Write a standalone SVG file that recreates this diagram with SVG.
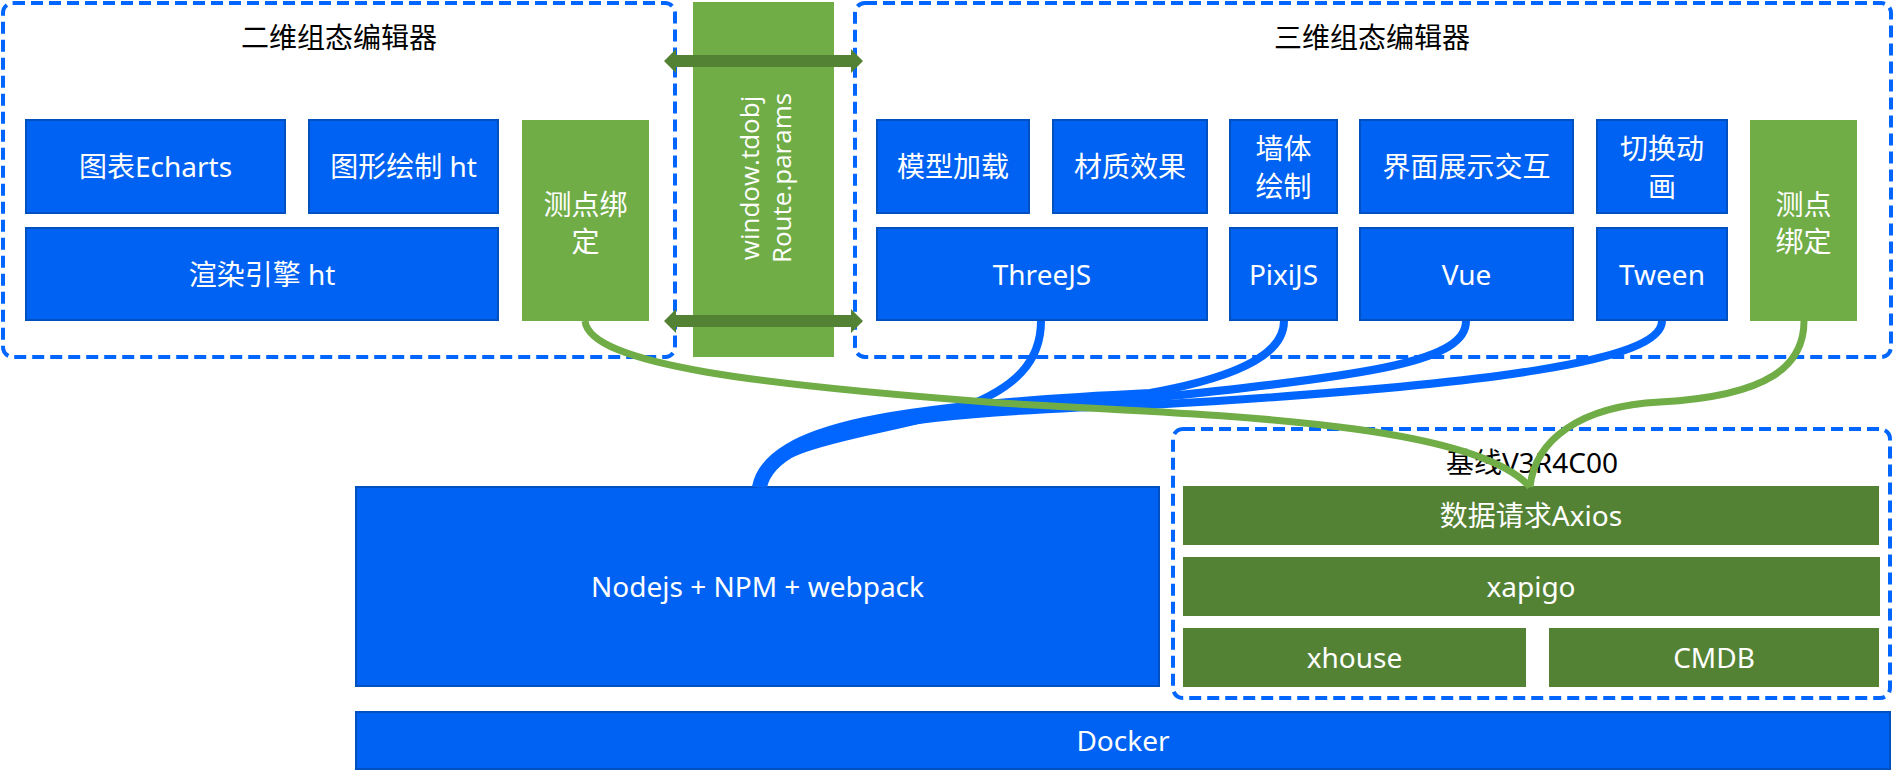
<svg xmlns="http://www.w3.org/2000/svg" width="1895" height="776" viewBox="0 0 1895 776">
<style>
.bg{fill:#ffffff}
.cont{fill:none;stroke:#0066ff;stroke-width:4;stroke-dasharray:12 6}
.bb{fill:#0062f2;stroke:#0050c0;stroke-width:2}
.gb{fill:#70ad47}
.dg{fill:#548235}
.t{font-family:"Noto Sans","Noto Sans CJK SC",sans-serif;font-size:28px;text-anchor:middle;fill:#ffffff}
.title{font-family:"Noto Sans","Noto Sans CJK SC",sans-serif;font-size:28px;text-anchor:middle;fill:#000000}
.vt{font-family:"Open Sans","Noto Sans",sans-serif;font-size:26px;text-anchor:middle;fill:#ffffff}
.cb{fill:none;stroke:#0066ff;stroke-width:8;stroke-linecap:butt}
.cg{fill:none;stroke:#70ad47;stroke-width:7}
.arr{fill:#548235}
</style>
<rect class="bg" x="0" y="0" width="1895" height="776"/>

<g id="editor2d">
  <rect class="cont" x="3" y="3" width="672" height="354" rx="10"/>
  <text class="title" x="339" y="48">二维组态编辑器</text>
</g>
<g id="editor3d">
  <rect class="cont" x="855" y="3" width="1036" height="354" rx="10"/>
  <text class="title" x="1372" y="48">三维组态编辑器</text>
</g>
<g id="baseline">
  <rect class="cont" x="1173" y="429" width="717" height="269" rx="10"/>
  <text class="title" x="1532" y="473">基线V3R4C00</text>
</g>

<g id="bridge">
  <rect class="gb" x="693" y="2" width="141" height="355"/>
  <text class="vt" transform="translate(766,178) rotate(-90)"><tspan x="0" y="-7">window.tdobj</tspan><tspan x="0" y="25">Route.params</tspan></text>
</g>

<g id="echarts"><rect class="bb" x="26" y="120" width="259" height="93"/><text class="t" x="155.5" y="177">图表Echarts</text></g>
<g id="htdraw"><rect class="bb" x="309" y="120" width="189" height="93"/><text class="t" x="403.5" y="177">图形绘制 ht</text></g>
<g id="render"><rect class="bb" x="26" y="228" width="472" height="92"/><text class="t" x="262" y="284.5">渲染引擎 ht</text></g>
<g id="bindL"><rect class="gb" x="522" y="120" width="127" height="201"/><text class="t" x="585.5" y="215">测点绑</text><text class="t" x="585.5" y="252">定</text></g>

<g id="model"><rect class="bb" x="877" y="120" width="152" height="93"/><text class="t" x="953" y="177">模型加载</text></g>
<g id="material"><rect class="bb" x="1053" y="120" width="154" height="93"/><text class="t" x="1130" y="177">材质效果</text></g>
<g id="wall"><rect class="bb" x="1230" y="120" width="107" height="93"/><text class="t" x="1283.5" y="159">墙体</text><text class="t" x="1283.5" y="197">绘制</text></g>
<g id="ui"><rect class="bb" x="1360" y="120" width="213" height="93"/><text class="t" x="1466.5" y="177">界面展示交互</text></g>
<g id="anim"><rect class="bb" x="1597" y="120" width="130" height="93"/><text class="t" x="1662" y="159">切换动</text><text class="t" x="1662" y="197">画</text></g>
<g id="threejs"><rect class="bb" x="877" y="228" width="330" height="92"/><text class="t" x="1042" y="284.5">ThreeJS</text></g>
<g id="pixijs"><rect class="bb" x="1230" y="228" width="107" height="92"/><text class="t" x="1283.5" y="284.5">PixiJS</text></g>
<g id="vue"><rect class="bb" x="1360" y="228" width="213" height="92"/><text class="t" x="1466.5" y="284.5">Vue</text></g>
<g id="tween"><rect class="bb" x="1597" y="228" width="130" height="92"/><text class="t" x="1662" y="284.5">Tween</text></g>
<g id="bindR"><rect class="gb" x="1750" y="120" width="107" height="201"/><text class="t" x="1803.5" y="215">测点</text><text class="t" x="1803.5" y="252">绑定</text></g>

<g id="nodejs"><rect class="bb" x="356" y="487" width="803" height="199"/><text class="t" x="757.5" y="597">Nodejs + NPM + webpack</text></g>
<g id="docker"><rect class="bb" x="356" y="712" width="1534" height="57"/><text class="t" x="1123" y="751">Docker</text></g>

<g id="axios"><rect class="dg" x="1183" y="486" width="696" height="59"/><text class="t" x="1531" y="526">数据请求Axios</text></g>
<g id="xapigo"><rect class="dg" x="1183" y="557" width="697" height="59"/><text class="t" x="1531" y="597">xapigo</text></g>
<g id="xhouse"><rect class="dg" x="1183" y="628" width="343" height="59"/><text class="t" x="1354.5" y="668">xhouse</text></g>
<g id="cmdb"><rect class="dg" x="1549" y="628" width="330" height="59"/><text class="t" x="1714" y="668">CMDB</text></g>

<g id="connectors">
  <polygon class="arr" points="664,61 676,49 676,55 851,55 851,49 863,61 851,73 851,67 676,67 676,73"/>
  <polygon class="arr" points="664,321 676,309 676,315 851,315 851,309 863,321 851,333 851,327 676,327 676,333"/>
  <path class="cb" d="M1041,321 C1041,362 1015,388 962,408 C890,433 762,440 758,487"/>
  <path class="cb" d="M1284,321 C1284,350 1250,375 1150,393 C900,405 768,425 756,487"/>
  <path class="cb" d="M1466,321 C1466,360 1380,375 1150,398 C900,410 772,428 760,487"/>
  <path class="cb" d="M1662,321 C1662,360 1500,385 1150,405 C910,412 775,430 763,487"/>
  <path class="cg" d="M585,321 C590,365 760,385 1000,403 C1200,415 1470,420 1530,487"/>
  <path class="cg" d="M1804,321 C1804,365 1770,396 1660,402 C1580,406 1535,440 1530,487"/>
</g>
</svg>
